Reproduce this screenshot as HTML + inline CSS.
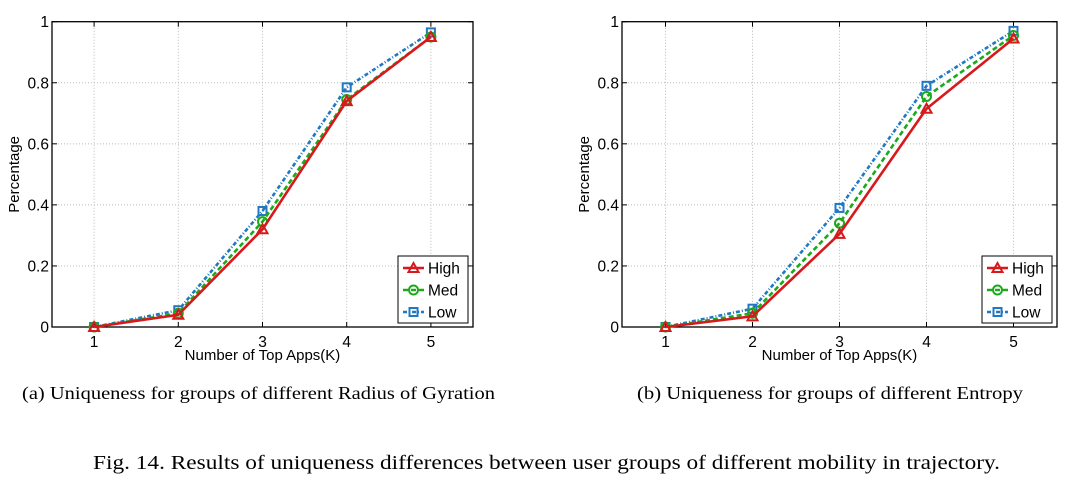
<!DOCTYPE html>
<html><head><meta charset="utf-8"><style>
body{margin:0;background:#fff}
svg{display:block}
text{font-family:"Liberation Sans",sans-serif}
.serif{font-family:"Liberation Serif",serif}
</style></head><body>
<svg id="fig" width="1080" height="500" viewBox="0 0 1080 500">
<text class="serif" x="22" y="399" font-size="18" textLength="473" lengthAdjust="spacingAndGlyphs">(a)  Uniqueness for groups of different Radius of Gyration</text>
<text class="serif" x="637" y="399" font-size="18" textLength="386" lengthAdjust="spacingAndGlyphs">(b)  Uniqueness for groups of different Entropy</text>
<text class="serif" x="93" y="469" font-size="20" textLength="907" lengthAdjust="spacingAndGlyphs">Fig. 14.  Results of uniqueness differences between user groups of different mobility in trajectory.</text>
</svg>
<script>
const categories = [1, 2, 3, 4, 5];
const yTicks = [0, 0.2, 0.4, 0.6, 0.8, 1];
const yTickLabels = ["0", "0.2", "0.4", "0.6", "0.8", "1"];
const seriesNames = ["High", "Med", "Low"];
const aHigh = [0, 0.04, 0.32, 0.74, 0.95];
const aMed = [0, 0.045, 0.345, 0.745, 0.95];
const aLow = [0, 0.055, 0.38, 0.785, 0.965];
const bHigh = [0, 0.035, 0.305, 0.715, 0.945];
const bMed = [0, 0.045, 0.34, 0.755, 0.955];
const bLow = [0, 0.06, 0.39, 0.79, 0.97];

const NS = "http://www.w3.org/2000/svg";
const svg = document.getElementById("fig");
function mk(tag, attrs, parent) {
  const e = document.createElementNS(NS, tag);
  for (const k in attrs) e.setAttribute(k, attrs[k]);
  (parent || svg).appendChild(e);
  return e;
}
const styles = [
  {color: "#d7191c", dash: "", marker: "tri"},
  {color: "#1aaa1a", dash: "5,3", marker: "circ"},
  {color: "#1f78c1", dash: "4,2,1,2", marker: "sq"}
];
function marker(g, type, x, y, color) {
  let m;
  if (type === "tri") m = mk("polygon", {points: `${x},${y-5} ${x-5},${y+4} ${x+5},${y+4}`, fill: "none", stroke: color, "stroke-width": 2}, g);
  else if (type === "circ") m = mk("circle", {cx: x, cy: y, r: 4.5, fill: "none", stroke: color, "stroke-width": 2}, g);
  else m = mk("rect", {x: x-4, y: y-4, width: 8, height: 8, fill: "none", stroke: color, "stroke-width": 2}, g);
  return m;
}
function chart(prefix, L, R, T, B, data, ylabX) {
  const xs = k => L + (k - 0.5) / 5 * (R - L);
  const ys = v => B - v * (B - T);
  const g = mk("g", {});
  
  
  categories.forEach(c => {
    const l = mk("line", {x1: xs(c), x2: xs(c), y1: T, y2: B, stroke: "#bbb", "stroke-dasharray": "1,2", "stroke-width": 1}, g);
    
    
    mk("line", {x1: xs(c), x2: xs(c), y1: B, y2: B-5, stroke: "#000"}, g);
    mk("line", {x1: xs(c), x2: xs(c), y1: T, y2: T+5, stroke: "#000"}, g);
    const t = mk("text", {x: xs(c), y: B + 20, "text-anchor": "middle", "font-size": 15.5}, g);
    t.textContent = c;
    
    
  });
  yTicks.forEach((v, i) => {
    if (i > 0 && i < yTicks.length - 1) {
      const l = mk("line", {x1: L, x2: R, y1: ys(v), y2: ys(v), stroke: "#bbb", "stroke-dasharray": "1,2"}, g);
      
      
    }
    mk("line", {x1: L, x2: L+5, y1: ys(v), y2: ys(v), stroke: "#000"}, g);
    mk("line", {x1: R, x2: R-5, y1: ys(v), y2: ys(v), stroke: "#000"}, g);
    const t = mk("text", {x: L - 3, y: ys(v) + 5.5, "text-anchor": "end", "font-size": 15.5}, g);
    t.textContent = yTickLabels[i];
    
    
  });
  const box = mk("rect", {x: L, y: T, width: R-L, height: B-T, fill: "none", stroke: "#000", "stroke-width": 1.3}, g);
  
  
  const xl = mk("text", {x: (L+R)/2, y: B + 33, "text-anchor": "middle", "font-size": 15}, g);
  xl.textContent = "Number of Top Apps(K)";
  
  
  const yl = mk("text", {x: 0, y: 0, "text-anchor": "middle", "font-size": 15, transform: `translate(${ylabX},${(T+B)/2}) rotate(-90)`}, g);
  yl.textContent = "Percentage";
  
  
  for (let s = data.length - 1; s >= 0; s--) {
    const st = styles[s];
    const sg = mk("g", {}, g);
    
    
    const pts = data[s].map((v, i) => xs(categories[i]) + "," + ys(v)).join(" ");
    const pl = mk("polyline", {points: pts, fill: "none", stroke: st.color, "stroke-width": 2.6, "stroke-dasharray": st.dash}, sg);
    
    
    data[s].forEach((v, i) => {
      const m = marker(sg, st.marker, xs(categories[i]), ys(v), st.color);
      
      
    });
  }
  const lx = R - 75, ly = B - 71;
  const lg = mk("g", {}, g);
  
  
  mk("rect", {x: lx, y: ly, width: 70, height: 67, fill: "#fff", stroke: "#000", "stroke-width": 1}, lg);
  seriesNames.forEach((n, i) => {
    const st = styles[i];
    const yy = ly + 12 + i * 22;
    const e = mk("g", {}, lg);
    
    
    mk("line", {x1: lx + 5, x2: lx + 26, y1: yy, y2: yy, stroke: st.color, "stroke-width": 2.6, "stroke-dasharray": st.dash}, e);
    marker(e, st.marker, lx + 15.5, yy, st.color);
    const t = mk("text", {x: lx + 30, y: yy + 5.5, "font-size": 15.5}, e);
    t.textContent = n;
  });
}
chart("a", 52, 473, 21.7, 327, [aHigh, aMed, aLow], 19);
chart("b", 622, 1057, 21.7, 327, [bHigh, bMed, bLow], 589);
</script>
</body></html>
